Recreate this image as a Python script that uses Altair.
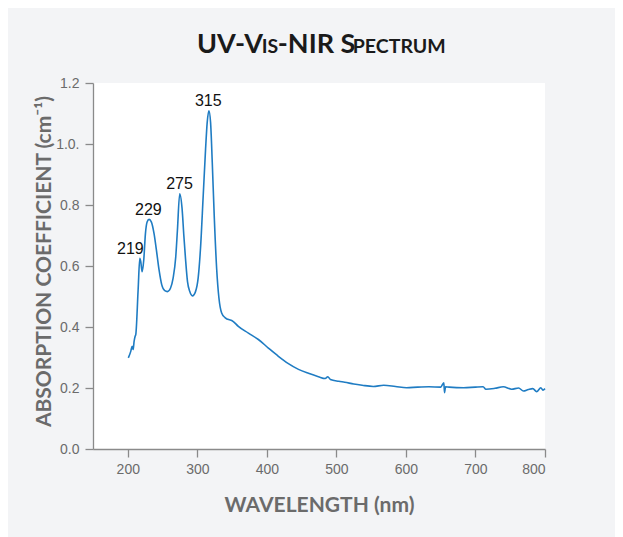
import altair as alt
import pandas as pd

# spectrum
wavelength = [200.8, 204.3, 206.2, 207.7, 209.1, 210.5, 211.5, 214.9, 217.3, 218.7,
              220.6, 223.0, 225.4, 227.8, 230.6, 234.0, 237.8, 241.2, 245.0, 248.9,
              253.2, 257.0, 261.4, 265.2, 269.0, 271.4, 274.7, 278.1, 280.6, 283.0,
              285.9, 289.2, 293.0, 297.4, 301.2, 304.6, 308.5, 311.9, 314.2, 316.7,
              319.1, 321.5, 324.3, 327.8, 331.1, 335.0, 339.8, 351.8, 359.0, 373.5,
              387.8, 402.2, 416.6, 431.0, 445.5, 459.8, 474.2, 483.9, 487.7, 491.4,
              503.5, 512.0, 525.0, 537.0, 553.0, 568.0, 585.0, 601.0, 617.0, 633.0,
              650.0, 654.5, 655.5, 657.0, 662.0, 683.0, 700.0, 711.0, 715.0, 728.0,
              740.0, 752.0, 762.0, 769.0, 776.0, 782.5, 788.0, 794.0, 797.0, 800.0]
absorbance = [0.299, 0.320, 0.337, 0.326, 0.353, 0.369, 0.375, 0.522, 0.625, 0.614,
              0.581, 0.620, 0.706, 0.744, 0.753, 0.744, 0.706, 0.652, 0.587, 0.538,
              0.519, 0.516, 0.527, 0.560, 0.630, 0.717, 0.837, 0.788, 0.701, 0.625,
              0.549, 0.516, 0.502, 0.516, 0.560, 0.658, 0.831, 0.984, 1.070, 1.109,
              1.070, 0.940, 0.766, 0.592, 0.495, 0.446, 0.431, 0.418, 0.402, 0.380,
              0.359, 0.331, 0.304, 0.280, 0.261, 0.248, 0.237, 0.231, 0.237, 0.228,
              0.222, 0.219, 0.213, 0.209, 0.205, 0.209, 0.205, 0.201, 0.203, 0.204,
              0.203, 0.217, 0.185, 0.204, 0.203, 0.201, 0.203, 0.204, 0.196, 0.199,
              0.204, 0.196, 0.200, 0.190, 0.195, 0.198, 0.188, 0.201, 0.193, 0.198]

peak_labels = ["219", "229", "275", "315"]
peak_label_x = [203.7, 229.6, 274.4, 315.8]
peak_label_y = [0.655, 0.785, 0.868, 1.142]

x_ticks = [200, 300, 400, 500, 600, 700, 800]
y_ticks = [0.0, 0.2, 0.4, 0.6, 0.8, 1.0, 1.2]

spec = pd.DataFrame({"wl": wavelength, "a": absorbance})
labels = pd.DataFrame({"t": peak_labels, "x": peak_label_x, "y": peak_label_y})

AX = "#8a8a8a"
LAB = "#6b6b6b"
TFONT = "Lato"

xenc = alt.X("wl:Q", scale=alt.Scale(domain=[150, 800], nice=False, zero=False),
             axis=alt.Axis(values=x_ticks, title="WAVELENGTH (nm)", grid=False,
                           tickSize=8, labelPadding=5, labelFontSize=14,
                           titleFontSize=21, titleFont=TFONT, titleFontWeight="bold",
                           titleColor=LAB, titleBaseline="alphabetic", titleY=62,
                           titleX=226))
yenc = alt.Y("a:Q", scale=alt.Scale(domain=[0, 1.2], nice=False),
             axis=alt.Axis(values=y_ticks, title="ABSORPTION COEFFICIENT (cm⁻¹)",
                           grid=False, tickSize=8, labelPadding=6, labelFontSize=14,
                           labelExpr="datum.value == 1 ? '1.0.' : format(datum.value, '.1f')",
                           titleFontSize=21, titleFont=TFONT, titleFontWeight="bold",
                           titleColor=LAB, titleBaseline="middle", titleX=-49,
                           titleY=178, titleAngle=270))

line = alt.Chart(spec).mark_line(color="#1f7cc3", strokeWidth=1.6,
                                 interpolate="monotone").encode(x=xenc, y=yenc)

text = alt.Chart(labels).mark_text(fontSize=16, font="Liberation Sans", color="#111",
                                   baseline="middle", align="center").encode(
    x=alt.X("x:Q"), y=alt.Y("y:Q"), text="t:N")

one = pd.DataFrame({"k": [0]})
title_parts = [("UV-V", 104.0, 27), ("IS", 168.8, 19.5), ("-NIR S", 184.8, 27), ("PECTRUM", 259.8, 19.5)]
title_layers = [
    alt.Chart(one).mark_text(font=TFONT, fontWeight="bold", fontSize=fs, color="#1a1a1a",
                             align="left", baseline="alphabetic").encode(
        x=alt.value(px), y=alt.value(-29.7), text=alt.value(s))
    for s, px, fs in title_parts
]

chart = alt.layer(line, text, *title_layers).properties(
    width=452, height=366,
    autosize=alt.AutoSizeParams(type="none"),
    padding={"left": 85, "top": 75, "right": 70, "bottom": 88},
    background="#f3f4f6",
).configure_view(fill="white", stroke="white", strokeWidth=0).configure_axis(
    domainColor=AX, tickColor=AX, domainWidth=1.3, tickWidth=1.3,
    labelColor=LAB, labelFont="Liberation Sans",
)

chart.save("out.html", embed_options={"renderer": "svg", "actions": False})
